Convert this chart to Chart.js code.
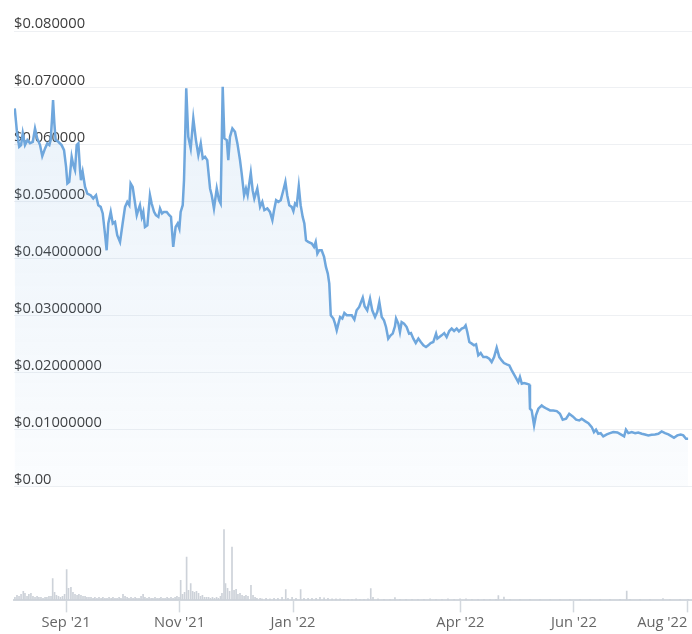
<!DOCTYPE html>
<html>
<head>
<meta charset="utf-8">
<script src="https://cdn.jsdelivr.net/npm/chart.js@4.4.0/dist/chart.umd.min.js"></script>
<style>
  html, body { margin: 0; padding: 0; background: #fff; }
</style>
</head>
<body>
<canvas id="priceChart" width="692" height="634"></canvas>
<script>
// days counted from 4 Aug 2021
var xTickDays = [0, 28, 89, 150, 240, 301, 362]
var xTickLabels = ['', "Sep '21", "Nov '21", "Jan '22", "Apr '22", "Jun '22", "Aug '22"]

var yTickValues = [0, 0.01, 0.02, 0.03, 0.04, 0.05, 0.06, 0.07, 0.08]
var yTickLabels = ['$0.00', '$0.01000000', '$0.02000000', '$0.03000000', '$0.04000000',
    '$0.050000', '$0.060000', '$0.070000', '$0.080000']

// [day, price in USD]
var pricePoints = [
    [0.4,.06641],[1.5,.06259],[2.8,.05966],[3.8,.05996],[4.7,.06207],[5.9,.05996],[7.2,.06084],[8.6,.06031],[10.1,.06054],[11.3,.06289],
    [12.5,.06113],[14.0,.05996],[15.2,.05802],[16.7,.05938],[17.9,.06026],[19.0,.05996],[19.7,.06084],[20.4,.06435],[21.0,.06787],[21.7,.06377],
    [22.4,.06084],[23.8,.06054],[25.6,.05996],[26.9,.05908],[28.0,.05614],[28.7,.05322],[29.7,.05350],[31.0,.05790],[31.9,.05644],[32.8,.05556],
    [33.7,.05996],[34.6,.06026],[35.5,.05556],[36.0,.05380],[36.9,.05526],[38.2,.05262],[39.4,.05146],[41.2,.05116],[42.6,.05058],[44.1,.05116],
    [45.3,.04941],[46.6,.04911],[47.7,.04795],[48.9,.04443],[49.8,.04149],[50.7,.04619],[52.0,.04823],[53.1,.04619],[54.3,.04647],[55.5,.04413],
    [57.0,.04295],[58.4,.04619],[59.7,.04911],[60.9,.04999],[62.0,.04941],[62.7,.05322],[63.8,.05262],[65.1,.04970],[66.0,.04765],[66.8,.04853],
    [67.7,.04941],[68.7,.04735],[69.5,.04823],[70.4,.04559],[71.7,.04589],[73.1,.05116],[74.0,.04970],[75.3,.04823],[76.3,.04765],[77.6,.04735],
    [78.5,.04883],[79.6,.04795],[80.6,.04823],[82.1,.04823],[83.5,.04765],[84.4,.04735],[85.6,.04208],[86.9,.04559],[88.0,.04619],[88.9,.04531],
    [89.6,.04823],[90.7,.04941],[91.4,.05380],[92.1,.06259],[92.6,.06993],
    [93.7,.06142],[95.0,.05938],[96.4,.06465],[97.8,.06084],[99.1,.05820],[100.4,.06026],[101.5,.05762],[102.7,.05790],[103.9,.05732],[105.4,.05234],
    [106.3,.05116],[107.5,.04883],[109.0,.05234],[110.2,.05029],[111.1,.04970],[111.7,.06084],[112.2,.07021],[113.1,.06113],[114.4,.06084],[115.2,.05732],
    [116.1,.06142],[117.4,.06289],[118.8,.06230],[120.1,.06026],[121.5,.05732],[122.4,.05498],[123.7,.05116],[124.7,.05234],[125.6,.05116],[127.3,.05509],
    [128.3,.05204],[129.2,.05058],[130.8,.05234],[132.3,.04911],[133.5,.04999],[134.6,.04853],[136.2,.04883],[137.6,.04823],[138.9,.04677],[139.8,.04853],
    [140.9,.05029],[142.1,.04999],[143.4,.05029],[144.8,.05204],[145.9,.05350],[146.9,.05116],[148.0,.04941],[149.3,.04911],[150.2,.04835],[151.1,.04970],
    [152.0,.04941],[153.1,.05275],[154.1,.04941],[155.2,.04735],[156.1,.04619],[157.0,.04325],[158.2,.04295],[160.1,.04267],[161.3,.04208],[162.2,.04295],
    [163.1,.04091],[164.1,.04149],[165.4,.04149],[166.7,.04032],[167.7,.03856],[168.7,.03740],[169.5,.03564],[170.3,.03007],[171.7,.02949],[172.6,.02861],
    [173.5,.02743],[174.4,.02861],[175.3,.02977],[176.5,.02949],[177.6,.03047],[178.9,.03007],[180.1,.03007],[181.6,.03007],[183.0,.02931],[184.2,.03095],
    [185.6,.03153],[187.5,.03318],[188.5,.03165],[189.9,.03095],[191.4,.03300],[192.6,.03095],[194.1,.02977],[195.3,.03065],[196.4,.03240],[197.7,.02977],
    [198.9,.02919],[200.0,.02801],[201.2,.02597],[202.5,.02655],[203.6,.02685],[204.8,.02813],[205.4,.02949],[206.6,.02861],[207.5,.02713],[208.4,.02889],
    [209.7,.02861],[211.1,.02801],[212.4,.02685],[213.4,.02695],[214.7,.02597],[216.0,.02520],[217.4,.02597],[218.7,.02537],[220.1,.02479],[221.5,.02449],
    [222.7,.02479],[224.0,.02520],[225.4,.02537],[226.9,.02685],[227.6,.02597],[228.7,.02625],[229.9,.02655],[231.3,.02695],[232.6,.02625],[234.0,.02731],
    [235.3,.02773],[236.6,.02731],[238.0,.02773],[239.2,.02725],[240.7,.02773],[241.9,.02790],[242.8,.02831],[243.7,.02713],[244.8,.02537],[246.1,.02509],
    [247.3,.02479],[248.4,.02497],[249.6,.02303],[250.9,.02344],[252.3,.02273],[254.1,.02273],[255.5,.02245],[256.8,.02185],[258.1,.02273],[259.5,.02439],
    [260.9,.02273],[262.2,.02215],[263.4,.02168],[264.9,.02145],[266.3,.02127],[267.6,.02040],[269.4,.01934],[271.1,.01834],[272.0,.01922],[273.0,.01806],
    [274.2,.01816],[275.6,.01806],[277.0,.01788],[277.4,.01366],[278.3,.01336],[279.6,.01073],[280.6,.01248],[281.9,.01366],[283.7,.01424],[284.9,.01394],
    [286.4,.01366],[288.2,.01336],[289.9,.01336],[291.8,.01324],[293.5,.01278],[295.0,.01173],[296.8,.01190],[298.5,.01278],[300.4,.01231],[302.2,.01173],
    [303.9,.01160],[305.2,.01190],[307.0,.01148],[308.8,.01113],[310.6,.01043],[311.8,.00955],[312.9,.00997],[314.1,.00927],[315.4,.00937],[316.8,.00879],
    [318.7,.00914],[320.4,.00937],[322.2,.00955],[324.4,.00949],[326.2,.00914],[328.0,.00879],[329.0,.00997],[330.3,.00937],[332.1,.00955],[333.9,.00937],
    [335.6,.00949],[337.5,.00927],[339.2,.00914],[341.0,.00897],[342.8,.00909],[344.6,.00914],[346.4,.00927],[348.2,.00967],[350.0,.00937],[351.8,.00914],
    [353.6,.00879],[354.8,.00856],[356.6,.00897],[358.4,.00914],[359.8,.00897],[361.3,.00839],[362.4,.00839]
]

// [day, volume in thousand USD]
var volumePoints = [
    [0.5,30],[1.6,50],[2.7,40],[3.8,60],[5.0,90],[5.9,70],[7.0,40],[8.0,60],[9.1,70],[10.2,40],[11.3,30],[12.4,40],[13.4,30],[14.5,30],
    [15.6,20],[16.7,30],[17.7,30],[18.8,40],[19.9,40],[20.8,217],[21.8,80],[22.8,50],[23.9,40],[25.0,30],[26.1,40],[27.2,60],[28.3,307],
    [29.3,120],[30.6,130],[31.7,80],[32.8,60],[33.9,50],[34.9,60],[36.0,50],[37.1,40],[38.2,40],[39.2,30],[40.3,30],[41.4,30],[42.5,20],
    [43.5,30],[44.6,20],[45.7,30],[46.8,20],[47.8,30],[48.9,20],[50.0,20],[51.1,30],[52.2,20],[53.2,30],[54.3,20],[55.4,20],[56.5,30],
    [57.5,20],[58.6,60],[59.7,40],[60.8,30],[61.8,20],[62.9,30],[64.0,20],[65.1,30],[66.1,20],[67.2,20],[68.3,40],[69.4,60],[70.4,30],
    [71.5,20],[72.6,30],[73.7,20],[74.7,20],[75.8,30],[76.9,20],[78.0,20],[79.0,30],[80.1,20],[81.2,20],[82.3,30],[83.3,20],[84.4,30],
    [85.5,20],[86.6,30],[87.6,40],[88.7,30],[89.6,200],[90.6,60],[91.7,80],[92.8,433],[93.8,100],[95.0,167],[96.0,90],[97.0,80],[98.1,90],
    [99.2,70],[100.3,40],[101.3,50],[102.4,30],[103.5,30],[104.6,30],[105.6,20],[106.7,30],[107.8,20],[108.9,30],[109.9,20],[111.0,40],
    [111.8,70],[112.9,707],[113.7,167],[114.8,120],[115.9,90],[117.2,533],[118.3,100],[119.4,110],[120.4,60],[121.5,70],[122.6,50],
    [123.7,40],[124.7,50],[125.8,40],[127.4,150],[128.5,50],[129.6,30],[130.6,20],[132.3,20],[133.3,15],[135.5,20],[137.6,15],[139.8,20],
    [141.9,20],[144.1,30],[146.1,107],[147.3,20],[149.5,30],[151.6,20],[154.1,107],[155.9,20],[158.1,20],[160.2,20],[162.4,20],[164.5,30],
    [166.7,25],[168.8,20],[171.0,15],[173.1,15],[175.3,15],[177.4,10],[179.6,10],[181.7,10],[183.9,15],[186.0,10],[188.2,10],[190.3,15],
    [191.8,117],[193.0,30],[195.7,15],[198.9,10],[202.2,10],[204.8,27],[207.5,10],[210.8,10],[214.0,10],[217.2,10],[220.4,10],[223.7,15],
    [226.9,10],[230.1,10],[233.3,15],[236.6,10],[239.8,15],[243.0,15],[246.2,10],[249.5,10],[252.7,10],[255.9,10],[259.1,10],[260.4,47],
    [263.4,33],[266.7,10],[272.0,10],[277.4,10],[282.8,10],[288.2,10],[293.5,10],[298.9,10],[304.3,10],[309.7,10],[315.1,10],[320.4,10],
    [325.8,10],[329.4,93],[331.2,10],[336.6,10],[341.9,10],[348.9,17],[352.7,10],[358.1,10],[362.4,10]
]

var labelFont = { family: 'Open Sans', size: 14.7 }

function priceFill(context) {
    var chart = context.chart
    var area = chart.chartArea
    if (!area) return 'rgba(111,167,221,0.08)'
    var zero = chart.scales.y.getPixelForValue(0)
    var g = chart.ctx.createLinearGradient(0, area.top, 0, zero)
    g.addColorStop(0, 'rgba(111,167,221,0.16)')
    g.addColorStop(1, 'rgba(111,167,221,0.03)')
    return g
}

var ctx = document.getElementById('priceChart').getContext('2d')
var PriceChart = new Chart(ctx, {
    data: {
        datasets: [{
            type: 'line',
            label: 'Price',
            data: pricePoints.map(p => ({ x: p[0], y: p[1] })),
            yAxisID: 'y',
            borderColor: '#6fa7dd',
            borderWidth: 2.5,
            backgroundColor: priceFill,
            fill: 'origin',
            pointRadius: 0,
            tension: 0,
            order: 1
        }, {
            type: 'bar',
            label: 'Volume',
            data: volumePoints.map(p => ({ x: p[0], y: p[1] })),
            yAxisID: 'yVol',
            backgroundColor: '#cdd2d9',
            barThickness: 1,
            order: 2
        }]
    },
    options: {
        responsive: false,
        animation: false,
        layout: { padding: { left: 14, top: 31, right: 0, bottom: 0 } },
        plugins: {
            legend: { display: false },
            tooltip: { enabled: false }
        },
        scales: {
            x: {
                type: 'linear',
                min: 0,
                max: 364.5,
                offset: false,
                // month ticks only, first one is an empty anchor at the left edge
                afterBuildTicks: axis => { axis.ticks = xTickDays.map(v => ({ value: v })) },
                ticks: {
                    callback: (v, i) => xTickLabels[i],
                    align: 'inner',
                    autoSkip: false,
                    maxRotation: 0,
                    padding: 2,
                    color: '#666',
                    font: labelFont
                },
                grid: {
                    offset: false,
                    drawOnChartArea: false,
                    tickLength: 12,
                    tickWidth: 1.5,
                    tickColor: c => c.index === 0 ? 'rgba(0,0,0,0)' : '#d3d8de'
                },
                border: { color: '#d3d8de', width: 2 }
            },
            y: {
                type: 'linear',
                position: 'left',
                min: -0.02,
                max: 0.08,
                afterBuildTicks: axis => { axis.ticks = yTickValues.map(v => ({ value: v })) },
                ticks: {
                    callback: (v, i) => yTickLabels[i],
                    mirror: true,
                    padding: 0,
                    labelOffset: -7,
                    color: '#3c3c3c',
                    font: labelFont
                },
                grid: { color: '#eef0f3', lineWidth: 1, drawTicks: false },
                border: { display: false }
            },
            yVol: {
                display: false,
                min: 0,
                max: 5690
            }
        }
    }
})
</script>
</body>
</html>
